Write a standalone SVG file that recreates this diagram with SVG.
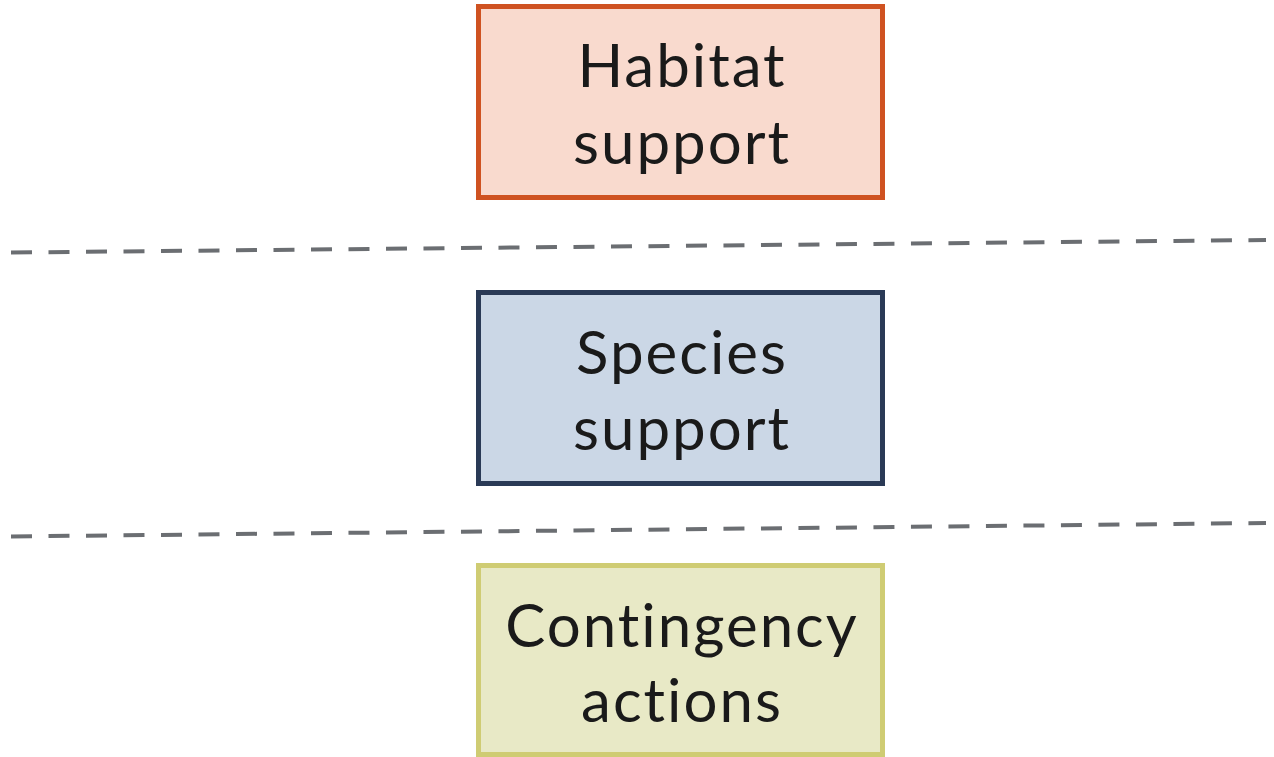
<svg xmlns="http://www.w3.org/2000/svg" width="1274" height="757" viewBox="0 0 1274 757">
<style>
.box{stroke-width:5}
.t{font-family:Lato,"Open Sans",sans-serif;font-size:60px;letter-spacing:2px;fill:#1a1a1a;text-anchor:middle}
.dash{stroke:#6b6e72;stroke-width:4;stroke-dasharray:21 16.5;fill:none}
</style>
<rect width="1274" height="757" fill="#fff"/>
<g id="connectors">
<line class="dash" x1="11" y1="252.5" x2="1266" y2="240"/>
<line class="dash" x1="11" y1="536.5" x2="1266" y2="523"/>
</g>
<g id="habitat">
<rect class="box" x="478.5" y="6.5" width="404" height="191" fill="#f9dace" stroke="#cf5221"/>
<text class="t" x="682" y="87">Habitat</text>
<text class="t" x="682" y="164">support</text>
</g>
<g id="species">
<rect class="box" x="478.5" y="292.5" width="404" height="191" fill="#cbd7e6" stroke="#2a3a56"/>
<text class="t" x="682" y="374">Species</text>
<text class="t" x="682" y="450">support</text>
</g>
<g id="contingency">
<rect class="box" x="478.5" y="565.5" width="404" height="189" fill="#e8e9c6" stroke="#cfcc73"/>
<text class="t" x="682" y="647">Contingency</text>
<text class="t" x="682" y="722">actions</text>
</g>
</svg>
